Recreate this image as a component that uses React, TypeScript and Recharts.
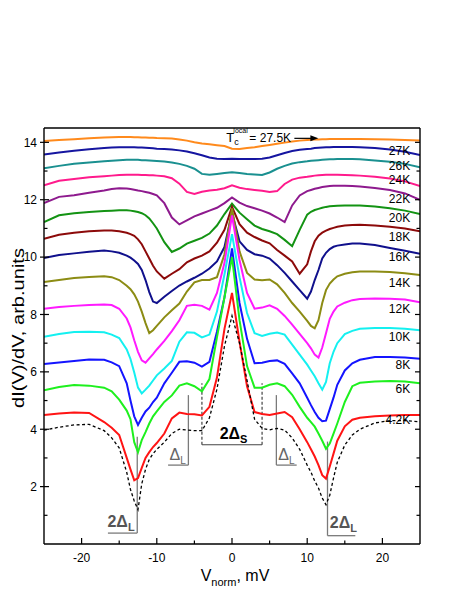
import React from "react";
import { LineChart, Line, XAxis, YAxis, ReferenceLine, ReferenceDot } from "recharts";

const FONT = "Arial, 'Liberation Sans', Helvetica, sans-serif";

// bias voltage grid, mV
const voltage = [-25, -23, -21, -19, -17, -16, -15, -14, -13.5, -13, -12.5, -12, -11.5, -11, -10.5, -10, -9, -8, -7, -6, -5, -4, -3, -2, -1, 0, 1, 2, 3, 4, 5, 6, 7, 8, 9, 10, 10.5, 11, 11.5, 12, 12.5, 13, 13.5, 14, 15, 16, 17, 19, 21, 23, 25];

// dI/dV spectra, shifted vertically (arb. units)
const curveTc = [14.05, 14.08, 14.11, 14.14, 14.17, 14.18, 14.19, 14.19, 14.19, 14.18, 14.18, 14.17, 14.17, 14.16, 14.16, 14.15, 14.14, 14.13, 14.1, 14.06, 14.0, 13.96, 13.93, 13.9, 13.87, 13.78, 13.77, 13.8, 13.83, 13.87, 13.91, 13.95, 13.99, 14.03, 14.06, 14.08, 14.09, 14.1, 14.1, 14.11, 14.11, 14.12, 14.12, 14.12, 14.12, 14.12, 14.12, 14.11, 14.1, 14.08, 14.06];
const curve27 = [13.58, 13.65, 13.71, 13.76, 13.8, 13.82, 13.83, 13.83, 13.83, 13.83, 13.82, 13.82, 13.81, 13.8, 13.79, 13.78, 13.77, 13.75, 13.72, 13.68, 13.62, 13.55, 13.47, 13.43, 13.42, 13.43, 13.42, 13.42, 13.42, 13.43, 13.47, 13.55, 13.63, 13.7, 13.74, 13.77, 13.78, 13.8, 13.81, 13.82, 13.83, 13.83, 13.84, 13.84, 13.84, 13.84, 13.83, 13.8, 13.75, 13.67, 13.56];
const curve26 = [13.1, 13.18, 13.25, 13.3, 13.34, 13.36, 13.38, 13.39, 13.39, 13.39, 13.39, 13.38, 13.38, 13.37, 13.36, 13.35, 13.33, 13.3, 13.25, 13.18, 13.08, 12.9, 12.87, 12.9, 12.93, 12.96, 12.93, 12.9, 12.88, 12.86, 12.95, 13.08, 13.18, 13.26, 13.31, 13.34, 13.36, 13.37, 13.38, 13.39, 13.4, 13.41, 13.41, 13.42, 13.42, 13.42, 13.41, 13.37, 13.32, 13.25, 13.13];
const curve24 = [12.5, 12.66, 12.72, 12.78, 12.82, 12.84, 12.86, 12.87, 12.87, 12.87, 12.87, 12.86, 12.86, 12.85, 12.85, 12.84, 12.82, 12.75, 12.56, 12.27, 12.2, 12.28, 12.32, 12.35, 12.4, 12.5, 12.42, 12.37, 12.34, 12.31, 12.27, 12.3, 12.55, 12.7, 12.77, 12.8, 12.82, 12.84, 12.85, 12.86, 12.87, 12.87, 12.87, 12.87, 12.86, 12.85, 12.84, 12.8, 12.74, 12.64, 12.48];
const curve22 = [11.88, 12.1, 12.16, 12.24, 12.32, 12.37, 12.4, 12.39, 12.37, 12.35, 12.32, 12.3, 12.27, 12.24, 12.2, 12.15, 11.88, 11.38, 11.14, 11.28, 11.42, 11.52, 11.62, 11.72, 11.88, 12.08, 11.9, 11.78, 11.7, 11.62, 11.52, 11.38, 11.22, 11.8, 12.15, 12.3, 12.34, 12.38, 12.41, 12.44, 12.46, 12.48, 12.49, 12.49, 12.49, 12.48, 12.46, 12.41, 12.34, 12.22, 12.0];
const curve20 = [11.22, 11.46, 11.53, 11.57, 11.61, 11.62, 11.63, 11.63, 11.62, 11.6, 11.57, 11.53, 11.46, 11.35, 11.18, 11.0, 10.52, 10.18, 10.3, 10.47, 10.57, 10.67, 10.82, 11.1, 11.5, 11.86, 11.55, 11.32, 11.1, 10.98, 10.9, 10.8, 10.6, 10.38, 10.95, 11.48, 11.58, 11.64, 11.68, 11.72, 11.75, 11.77, 11.78, 11.79, 11.8, 11.8, 11.8, 11.76, 11.7, 11.62, 11.5];
const curve18 = [10.64, 10.78, 10.85, 10.9, 10.93, 10.93, 10.9, 10.85, 10.8, 10.74, 10.62, 10.45, 10.2, 9.95, 9.7, 9.5, 9.25, 9.42, 9.58, 9.82, 9.95, 10.05, 10.2, 10.5, 10.95, 11.75, 11.15, 10.85, 10.7, 10.58, 10.48, 10.25, 10.05, 9.85, 9.42, 9.75, 10.2, 10.55, 10.75, 10.85, 10.92, 10.98, 11.02, 11.06, 11.1, 11.12, 11.13, 11.1, 11.06, 11.0, 10.9];
const curve16 = [9.97, 10.07, 10.13, 10.19, 10.23, 10.2, 10.15, 10.05, 9.98, 9.88, 9.76, 9.55, 9.2, 8.78, 8.45, 8.4, 8.62, 8.82, 9.01, 9.15, 9.28, 9.42, 9.6, 9.85, 10.35, 11.55, 10.55, 10.25, 10.1, 10.05, 9.95, 9.72, 9.45, 9.15, 8.85, 8.55, 8.8, 9.2, 9.55, 9.95, 10.15, 10.28, 10.36, 10.4, 10.44, 10.47, 10.47, 10.42, 10.32, 10.22, 10.12];
const curve14 = [9.13, 9.2, 9.27, 9.31, 9.33, 9.3, 9.2, 9.0, 8.88, 8.7, 8.45, 8.1, 7.7, 7.35, 7.45, 7.6, 7.9, 8.15, 8.38, 8.8, 9.12, 9.2, 9.2, 9.3, 10.1, 11.7, 10.2, 9.45, 9.22, 9.19, 9.22, 9.05, 8.75, 8.4, 8.1, 7.78, 7.6, 7.52, 7.8, 8.4, 8.85, 9.08, 9.22, 9.33, 9.42, 9.47, 9.5, 9.5, 9.48, 9.44, 9.38];
const curve12 = [8.2, 8.26, 8.3, 8.33, 8.35, 8.33, 8.2, 7.86, 7.55, 7.1, 6.7, 6.4, 6.32, 6.47, 6.62, 6.78, 7.08, 7.42, 7.8, 8.3, 8.34, 8.3, 8.17, 8.75, 9.8, 11.45, 9.9, 8.75, 8.2, 8.24, 8.32, 8.2, 7.95, 7.65, 7.32, 7.0, 6.82, 6.6, 6.5, 6.85, 7.35, 7.85, 8.1, 8.28, 8.41, 8.5, 8.54, 8.56, 8.55, 8.52, 8.43];
const curve10 = [7.22, 7.32, 7.39, 7.4, 7.38, 7.3, 7.18, 6.78, 6.45, 5.98, 5.45, 5.25, 5.38, 5.52, 5.7, 5.88, 6.12, 6.38, 7.05, 7.38, 7.36, 7.2, 7.3, 8.1, 9.4, 10.8, 9.3, 8.05, 7.35, 7.25, 7.33, 7.37, 7.3, 6.95, 6.6, 6.25, 6.05, 5.85, 5.6, 5.38, 5.65, 6.3, 6.7, 7.0, 7.32, 7.43, 7.5, 7.53, 7.53, 7.5, 7.45];
const curve8 = [6.27, 6.33, 6.38, 6.43, 6.42, 6.33, 6.2, 5.6, 5.0, 4.45, 4.15, 4.4, 4.62, 4.75, 4.95, 5.1, 5.6, 5.97, 6.35, 6.37, 6.32, 6.18, 6.35, 7.4, 8.6, 10.3, 8.4, 7.15, 6.3, 6.32, 6.38, 6.4, 6.28, 5.95, 5.6, 5.1, 4.84, 4.6, 4.4, 4.28, 4.3, 4.7, 5.1, 5.55, 6.05, 6.3, 6.42, 6.52, 6.52, 6.5, 6.46];
const curve6 = [5.36, 5.47, 5.54, 5.52, 5.45, 5.32, 5.03, 4.65, 4.35, 3.55, 3.2, 3.62, 3.9, 4.2, 4.45, 4.62, 4.95, 5.18, 5.52, 5.6, 5.5, 5.32, 5.75, 7.2, 8.6, 10.0, 7.8, 6.2, 5.45, 5.45, 5.55, 5.6, 5.5, 5.2, 4.78, 4.4, 4.25, 4.09, 3.85, 3.6, 3.32, 3.5, 3.85, 4.2, 4.95, 5.5, 5.62, 5.66, 5.68, 5.66, 5.6];
const curve42 = [4.5, 4.55, 4.58, 4.57, 4.25, 4.05, 3.8, 3.0, 2.6, 2.22, 2.3, 2.65, 3.0, 3.2, 3.38, 3.52, 3.85, 4.38, 4.58, 4.53, 4.52, 4.48, 4.78, 5.8, 7.5, 8.75, 7.05, 5.5, 4.6, 4.53, 4.5, 4.55, 4.6, 4.42, 4.0, 3.55, 3.3, 3.05, 2.75, 2.4, 2.28, 2.7, 3.15, 3.6, 4.1, 4.33, 4.4, 4.45, 4.48, 4.5, 4.5];
const curveDash = [3.97, 4.07, 4.15, 4.17, 3.95, 3.7, 3.35, 2.5, 1.9, 1.5, 1.2, 2.1, 2.6, 2.95, 3.15, 3.3, 3.55, 3.85, 4.0, 3.97, 3.95, 3.95, 4.4, 5.4, 6.9, 7.95, 7.0, 5.7, 4.35, 4.03, 3.98, 4.03, 3.97, 3.7, 3.3, 2.75, 2.5, 2.2, 1.95, 1.6, 1.37, 1.7, 2.3, 2.85, 3.45, 3.8, 4.0, 4.22, 4.3, 4.3, 4.26];

const tempLabels = ["27K", "26K", "24K", "22K", "20K", "18K", "16K", "14K", "12K", "10K", "8K", "6K", "4.2K"];
const tempLabelLevels = [13.71, 13.2, 12.7, 12.03, 11.36, 10.71, 10.03, 9.1, 8.19, 7.24, 6.24, 5.4, 4.34];

const xTicks = [-20, -15, -10, -5, 0, 5, 10, 15, 20];
const yTicks = [1, 2, 3, 4, 5, 6, 7, 8, 9, 10, 11, 12, 13, 14];

const series = [
  { key: "tc", values: curveTc, color: "#ff8a1c" },
  { key: "k27", values: curve27, color: "#1515a0" },
  { key: "k26", values: curve26, color: "#1a9090" },
  { key: "k24", values: curve24, color: "#ff1a8c" },
  { key: "k22", values: curve22, color: "#8e1a8e" },
  { key: "k20", values: curve20, color: "#139313" },
  { key: "k18", values: curve18, color: "#8c0a0a" },
  { key: "k16", values: curve16, color: "#10108c" },
  { key: "k14", values: curve14, color: "#8c8c14" },
  { key: "k12", values: curve12, color: "#ff1aff" },
  { key: "k10", values: curve10, color: "#14f0f0" },
  { key: "k8", values: curve8, color: "#1414ff" },
  { key: "k6", values: curve6, color: "#1ef01e" },
  { key: "k42", values: curve42, color: "#ff1414" },
];

const data = voltage.map((v, i) => {
  const row: Record<string, number> = { v, dash: curveDash[i] };
  series.forEach((s) => (row[s.key] = s.values[i]));
  return row;
});

const GRAY = "#7a7a7a";

function BottomTick({ x, y, payload }: any) {
  const major = payload.value % 10 === 0;
  return (
    <g>
      <line x1={x} x2={x} y1={y} y2={y - (major ? 6 : 3.5)} stroke="#000" strokeWidth={1.2} />
      {major && (
        <text x={x} y={y + 18} textAnchor="middle" fontSize={12} fontFamily={FONT} fill="#000">
          {payload.value}
        </text>
      )}
    </g>
  );
}

function LeftTick({ x, y, payload }: any) {
  const major = payload.value % 2 === 0;
  return (
    <g>
      <line x1={x - (major ? 4 : 0)} x2={x + (major ? 5 : 3.5)} y1={y} y2={y} stroke="#000" strokeWidth={1.2} />
      {major && (
        <text x={x - 7} y={y} dy="0.36em" textAnchor="end" fontSize={12} fontFamily={FONT} fill="#000">
          {payload.value}
        </text>
      )}
    </g>
  );
}

function RightTick({ x, y, payload }: any) {
  const major = payload.value % 2 === 0;
  return <line x1={x} x2={x - (major ? 5 : 3.5)} y1={y} y2={y} stroke="#000" strokeWidth={1.2} />;
}

const textDot = (render: (cx: number, cy: number) => React.ReactElement) => (p: any) => render(p.cx, p.cy);

export default function App() {
  return (
    <div style={{ width: 460, height: 595, background: "#fff" }}>
      <style>{"body{margin:0}"}</style>
      <LineChart width={460} height={595} data={data} margin={{ top: 128, right: 0, bottom: 21, left: 0 }}>
        <XAxis
          dataKey="v"
          type="number"
          domain={[-25, 25]}
          ticks={xTicks}
          tickSize={0}
          tickMargin={0}
          tickLine={false}
          tick={<BottomTick />}
          height={30}
          axisLine={{ stroke: "#000", strokeWidth: 1.4 }}
          allowDataOverflow
          label={{
            content: (p: any) => {
              const vb = p.viewBox;
              return (
                <text x={vb.x + vb.width / 2 + 3} y={vb.y + 37} textAnchor="middle" fontSize={16} fontFamily={FONT} fill="#000">
                  V<tspan fontSize={11} dy={5}>norm</tspan>
                  <tspan dy={-5}>, mV</tspan>
                </text>
              );
            },
          }}
        />
        <YAxis
          type="number"
          domain={[0, 14.5]}
          ticks={yTicks}
          tickSize={0}
          tickMargin={0}
          tickLine={false}
          tick={<LeftTick />}
          width={44}
          axisLine={{ stroke: "#000", strokeWidth: 1.4 }}
          allowDataOverflow
          label={{
            content: (p: any) => {
              const vb = p.viewBox;
              const cx = vb.x + 18;
              const cy = 328;
              return (
                <text x={cx} y={cy} transform={`rotate(-90 ${cx} ${cy})`} textAnchor="middle" dy="0.35em" fontSize={17} fontFamily={FONT} fill="#000" textLength={160} lengthAdjust="spacingAndGlyphs">
                  dI(V)/dV, arb.units
                </text>
              );
            },
          }}
        />
        <YAxis
          yAxisId="right"
          orientation="right"
          type="number"
          domain={[0, 14.5]}
          ticks={yTicks}
          tickSize={0}
          tickMargin={0}
          tickLine={false}
          tick={<RightTick />}
          width={40}
          axisLine={{ stroke: "#000", strokeWidth: 1.4 }}
          allowDataOverflow
        />
        <ReferenceLine y={14.5} stroke="#000" strokeWidth={1.4} />

        {/* gap markers */}
        <ReferenceLine segment={[{ x: -12.6, y: 0.38 }, { x: -12.6, y: 3.74 }]} stroke={GRAY} strokeWidth={1.3} />
        <ReferenceLine segment={[{ x: -16.5, y: 0.38 }, { x: -12.6, y: 0.38 }]} stroke={GRAY} strokeWidth={1.3} />
        <ReferenceLine segment={[{ x: 12.7, y: 0.29 }, { x: 12.7, y: 3.57 }]} stroke={GRAY} strokeWidth={1.3} />
        <ReferenceLine segment={[{ x: 12.7, y: 0.29 }, { x: 16.4, y: 0.29 }]} stroke={GRAY} strokeWidth={1.3} />
        <ReferenceLine segment={[{ x: -5.8, y: 2.75 }, { x: -5.8, y: 5.19 }]} stroke={GRAY} strokeWidth={1.3} />
        <ReferenceLine segment={[{ x: -8.5, y: 2.75 }, { x: -5.8, y: 2.75 }]} stroke={GRAY} strokeWidth={1.3} />
        <ReferenceLine segment={[{ x: 5.9, y: 2.75 }, { x: 5.9, y: 5.19 }]} stroke={GRAY} strokeWidth={1.3} />
        <ReferenceLine segment={[{ x: 5.9, y: 2.75 }, { x: 8.6, y: 2.75 }]} stroke={GRAY} strokeWidth={1.3} />
        <ReferenceLine segment={[{ x: -4, y: 3.46 }, { x: -4, y: 5.6 }]} stroke="#444" strokeWidth={1.2} strokeDasharray="3 2" />
        <ReferenceLine segment={[{ x: 4, y: 3.46 }, { x: 4, y: 5.6 }]} stroke="#444" strokeWidth={1.2} strokeDasharray="3 2" />
        <ReferenceLine segment={[{ x: -4, y: 3.46 }, { x: 4, y: 3.46 }]} stroke="#444" strokeWidth={1.2} />

        {series.map((s) => (
          <Line key={s.key} dataKey={s.key} type="linear" stroke={s.color} strokeWidth={2} dot={false} isAnimationActive={false} />
        ))}
        <Line dataKey="dash" type="linear" stroke="#000" strokeWidth={1.3} strokeDasharray="3 2.5" dot={false} isAnimationActive={false} />

        {tempLabels.map((t, i) => (
          <ReferenceDot
            key={t}
            x={23.7}
            y={tempLabelLevels[i]}
            r={0}
            ifOverflow="visible"
            shape={textDot((cx, cy) => (
              <text x={cx} y={cy} dy="0.36em" textAnchor="end" fontSize={12} fontFamily={FONT} fill="#000">
                {t}
              </text>
            ))}
          />
        ))}

        <ReferenceDot
          x={-0.75}
          y={14.0}
          r={0}
          ifOverflow="visible"
          shape={textDot((cx, cy) => (
            <g>
              <text x={cx} y={cy} fontSize={13} fontFamily={FONT} fill="#000">
                T<tspan fontSize={9} dy={3}>c</tspan>
              </text>
              <text x={cx + 7} y={cy - 9} fontSize={7} fontFamily={FONT} fill="#000">
                local
              </text>
              <text x={cx + 23} y={cy} fontSize={12} fontFamily={FONT} fill="#000">
                = 27.5K
              </text>
              <line x1={cx + 68} x2={cx + 88} y1={cy - 4} y2={cy - 4} stroke="#000" strokeWidth={1.2} />
              <polygon points={`${cx + 92},${cy - 4} ${cx + 84},${cy - 7} ${cx + 84},${cy - 1}`} fill="#000" />
            </g>
          ))}
        />

        <ReferenceDot
          x={-16.56}
          y={0.6}
          r={0}
          ifOverflow="visible"
          shape={textDot((cx, cy) => (
            <text x={cx} y={cy} fontSize={16} fontWeight="bold" fontFamily={FONT} fill="#555">
              2Δ<tspan fontSize={11} dy={4}>L</tspan>
            </text>
          ))}
        />
        <ReferenceDot
          x={13.0}
          y={0.57}
          r={0}
          ifOverflow="visible"
          shape={textDot((cx, cy) => (
            <text x={cx} y={cy} fontSize={16} fontWeight="bold" fontFamily={FONT} fill="#555">
              2Δ<tspan fontSize={11} dy={4}>L</tspan>
            </text>
          ))}
        />
        <ReferenceDot
          x={-8.3}
          y={2.93}
          r={0}
          ifOverflow="visible"
          shape={textDot((cx, cy) => (
            <text x={cx} y={cy} fontSize={16} fontFamily={FONT} fill="#666">
              Δ<tspan fontSize={10} dy={4}>L</tspan>
            </text>
          ))}
        />
        <ReferenceDot
          x={6.15}
          y={2.93}
          r={0}
          ifOverflow="visible"
          shape={textDot((cx, cy) => (
            <text x={cx} y={cy} fontSize={16} fontFamily={FONT} fill="#666">
              Δ<tspan fontSize={10} dy={4}>L</tspan>
            </text>
          ))}
        />
        <ReferenceDot
          x={-1.64}
          y={3.65}
          r={0}
          ifOverflow="visible"
          shape={textDot((cx, cy) => (
            <text x={cx} y={cy} fontSize={16} fontWeight="bold" fontFamily={FONT} fill="#000">
              2Δ<tspan fontSize={11} dy={4}>S</tspan>
            </text>
          ))}
        />
      </LineChart>
    </div>
  );
}
